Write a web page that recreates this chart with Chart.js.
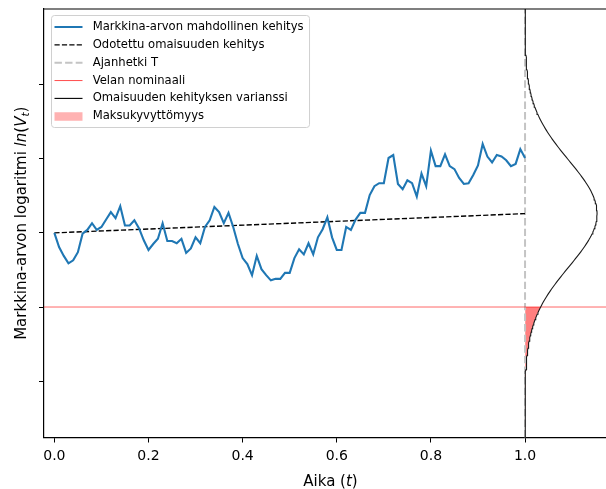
<!DOCTYPE html>
<html>
<head>
<meta charset="utf-8">
<script src="https://cdn.jsdelivr.net/npm/chart.js@4.4.1/dist/chart.umd.min.js"></script>
<style>
  html, body { margin: 0; padding: 0; background: #fff; overflow: hidden; }
  #wrap { width: 606px; height: 489px; }
</style>
</head>
<body>
<div id="wrap"><canvas id="chart_value" width="606" height="489"></canvas></div>
<script>
/*** DATA ***/

// simulation grid, dt = 0.01
const timeSteps = [
  0.00,0.01,0.02,0.03,0.04,0.05,0.06,0.07,0.08,0.09,
  0.10,0.11,0.12,0.13,0.14,0.15,0.16,0.17,0.18,0.19,
  0.20,0.21,0.22,0.23,0.24,0.25,0.26,0.27,0.28,0.29,
  0.30,0.31,0.32,0.33,0.34,0.35,0.36,0.37,0.38,0.39,
  0.40,0.41,0.42,0.43,0.44,0.45,0.46,0.47,0.48,0.49,
  0.50,0.51,0.52,0.53,0.54,0.55,0.56,0.57,0.58,0.59,
  0.60,0.61,0.62,0.63,0.64,0.65,0.66,0.67,0.68,0.69,
  0.70,0.71,0.72,0.73,0.74,0.75,0.76,0.77,0.78,0.79,
  0.80,0.81,0.82,0.83,0.84,0.85,0.86,0.87,0.88,0.89,
  0.90,0.91,0.92,0.93,0.94,0.95,0.96,0.97,0.98,0.99,
  1.00
];

// ln(V_t) along one simulated path
const pathValues = [
  5.00,4.81,4.69,4.59,4.63,4.74,4.99,5.04,5.13,5.04,
  5.08,5.18,5.28,5.20,5.36,5.10,5.10,5.17,5.06,4.90,
  4.77,4.85,4.92,5.13,4.89,4.89,4.86,4.92,4.73,4.79,
  4.94,4.86,5.08,5.17,5.35,5.28,5.13,5.27,5.08,4.85,
  4.66,4.58,4.43,4.69,4.51,4.43,4.36,4.38,4.38,4.46,
  4.46,4.66,4.78,4.71,4.86,4.71,4.94,5.05,5.21,4.94,
  4.77,4.77,5.08,5.04,5.18,5.27,5.27,5.51,5.63,5.67,
  5.67,6.01,6.05,5.66,5.59,5.71,5.67,5.49,5.80,5.63,
  6.11,5.90,5.90,6.06,5.90,5.86,5.74,5.66,5.67,5.78,
  5.91,6.20,6.03,5.95,6.05,6.03,5.98,5.90,5.93,6.13,
  6.01
];

const startLevel = 5.00;     // ln V_0
const expectedEnd = 5.26;    // E[ln V_T]
const debtLevel = 4.00;      // ln D
const horizonT = 1.0;
const sigmaT = 0.72;         // std of ln V_T
const densityWidth = 0.153;  // peak of the pdf in time units

const xTicks = [0.0, 0.2, 0.4, 0.6, 0.8, 1.0];
const yTicks = [3, 4, 5, 6, 7];
const xMin = -0.022, xMax = 1.172;
const yMin = 2.24, yMax = 8.02;

/*** DERIVED SERIES ***/

function pdfOffset(y) {
  const z = (y - expectedEnd) / sigmaT;
  return densityWidth * Math.exp(-0.5 * z * z);
}

const densityLevels = [];
for (let i = 0; i <= 240; i++) densityLevels.push(yMin + (yMax - yMin) * i / 240);

const densityPts = densityLevels.map(y => ({x: horizonT + pdfOffset(y), y: y}));

// area under the tail below the debt level
const tailPts = [{x: horizonT + pdfOffset(debtLevel), y: debtLevel}];
densityLevels.filter(y => y <= debtLevel).reverse()
  .forEach(y => tailPts.push({x: horizonT + pdfOffset(y), y: y}));
tailPts.push({x: horizonT, y: yMin});
tailPts.push({x: horizonT, y: debtLevel});
tailPts.push({x: horizonT + pdfOffset(debtLevel), y: debtLevel});

const pathPts = timeSteps.map((t, i) => ({x: t, y: pathValues[i]}));

/*** LEGEND, SPINE, AXIS TITLES ***/

const legendItems = [
  {label: 'Markkina-arvon mahdollinen kehitys', kind: 'line', color: '#1f77b4', width: 2, dash: []},
  {label: 'Odotettu omaisuuden kehitys', kind: 'line', color: '#000', width: 1.4, dash: [5.2, 2.2]},
  {label: 'Ajanhetki T', kind: 'line', color: '#c4c4c4', width: 2, dash: [7.4, 3.2]},
  {label: 'Velan nominaali', kind: 'line', color: 'rgba(255,0,0,0.7)', width: 1, dash: []},
  {label: 'Omaisuuden kehityksen varianssi', kind: 'line', color: '#000', width: 1.1, dash: []},
  {label: 'Maksukyvyttömyys', kind: 'patch', color: 'rgba(255,0,0,0.3)'}
];

function drawRich(ctx, parts, size) {
  // parts: [text, style] with style '', 'i' or 'sub'
  let total = 0;
  parts.forEach(p => {
    const s = p[1] === 'sub' ? size * 0.7 : size;
    ctx.font = (p[1] ? 'oblique ' : '') + s + 'px "DejaVu Sans"';
    p.w = ctx.measureText(p[0]).width;
    total += p.w;
  });
  let x = -total / 2;
  parts.forEach(p => {
    const s = p[1] === 'sub' ? size * 0.7 : size;
    ctx.font = (p[1] ? 'oblique ' : '') + s + 'px "DejaVu Sans"';
    ctx.fillText(p[0], x, p[1] === 'sub' ? size * 0.22 : 0);
    x += p.w;
  });
}

const framePlugin = {
  id: 'frame',
  afterDraw(chart) {
    const ctx = chart.ctx;
    const a = chart.chartArea;
    ctx.save();

    // top spine
    ctx.strokeStyle = '#000';
    ctx.lineWidth = 1.2;
    ctx.beginPath();
    ctx.moveTo(a.left, a.top);
    ctx.lineTo(a.right, a.top);
    ctx.stroke();

    // axis titles
    ctx.fillStyle = '#000';
    ctx.textBaseline = 'alphabetic';
    ctx.save();
    ctx.translate(330.5, 486);
    drawRich(ctx, [['Aika (', ''], ['t', 'i'], [')', '']], 15);
    ctx.restore();

    ctx.save();
    ctx.translate(25.5, (a.top + a.bottom) / 2);
    ctx.rotate(-Math.PI / 2);
    drawRich(ctx, [['Markkina-arvon logaritmi ', ''], ['ln', 'i'], ['(', ''], ['V', 'i'], ['t', 'sub'], [')', '']], 15);
    ctx.restore();

    // legend
    ctx.font = '11.6px "DejaVu Sans"';
    let maxW = 0;
    legendItems.forEach(it => { maxW = Math.max(maxW, ctx.measureText(it.label).width); });
    const bx = 51.5, by = 15.5, bw = 92.7 - bx + maxW + 6, bh = 112;
    ctx.beginPath();
    ctx.roundRect(bx, by, bw, bh, 3);
    ctx.fillStyle = 'rgba(255,255,255,0.8)';
    ctx.fill();
    ctx.strokeStyle = '#d0d0d0';
    ctx.lineWidth = 1;
    ctx.stroke();

    legendItems.forEach((it, i) => {
      const cy = 27 + i * 17.85;
      if (it.kind === 'line') {
        ctx.strokeStyle = it.color;
        ctx.lineWidth = it.width;
        ctx.setLineDash(it.dash);
        ctx.beginPath();
        ctx.moveTo(54.5, cy);
        ctx.lineTo(82.5, cy);
        ctx.stroke();
        ctx.setLineDash([]);
      } else {
        ctx.fillStyle = it.color;
        ctx.fillRect(54.5, cy - 4, 28, 8.5);
      }
      ctx.fillStyle = '#000';
      ctx.textBaseline = 'middle';
      ctx.fillText(it.label, 92.7, cy);
    });

    ctx.restore();
  }
};

/*** CHART ***/

const tickFont = {family: '"DejaVu Sans"', size: 14};

let ctx = document.getElementById('chart_value').getContext('2d');

new Chart(ctx, {
  type: 'line',
  data: {
    datasets: [
      {
        label: 'Maksukyvyttömyys',
        data: tailPts,
        borderWidth: 0,
        borderColor: 'rgba(0,0,0,0)',
        backgroundColor: 'rgba(255,0,0,0.5)',
        fill: 'shape',
        order: 6
      },
      {
        label: 'Ajanhetki T',
        data: [{x: horizonT, y: yMin}, {x: horizonT, y: yMax}],
        borderColor: '#c4c4c4',
        borderWidth: 2,
        borderDash: [7.4, 3.2],
        order: 5
      },
      {
        label: 'Velan nominaali',
        data: [{x: xMin, y: debtLevel}, {x: xMax, y: debtLevel}],
        borderColor: 'rgba(255,0,0,0.6)',
        borderWidth: 1,
        order: 4
      },
      {
        label: 'Omaisuuden kehityksen varianssi',
        data: densityPts,
        borderColor: '#1a1a1a',
        borderWidth: 1.1,
        order: 3
      },
      {
        label: 'Odotettu omaisuuden kehitys',
        data: [{x: 0, y: startLevel}, {x: horizonT, y: expectedEnd}],
        borderColor: '#000',
        borderWidth: 1.4,
        borderDash: [5.2, 2.2],
        order: 2
      },
      {
        label: 'Markkina-arvon mahdollinen kehitys',
        data: pathPts,
        borderColor: '#1f77b4',
        borderWidth: 2.1,
        order: 1
      }
    ]
  },
  options: {
    responsive: false,
    animation: false,
    devicePixelRatio: 1,
    elements: {point: {radius: 0}, line: {tension: 0, fill: false}},
    layout: {padding: {top: 9, right: 0, left: 0, bottom: 0}},
    plugins: {legend: {display: false}, tooltip: {enabled: false}},
    scales: {
      x: {
        type: 'linear',
        min: xMin,
        max: xMax,
        afterBuildTicks: s => { s.ticks = xTicks.map(v => ({value: v})); },
        afterFit: s => { s.height = 489 - 9 - 428.5; },
        ticks: {
          callback: v => v.toFixed(1),
          font: tickFont,
          color: '#000',
          padding: 5,
          maxRotation: 0,
          autoSkip: false
        },
        grid: {drawOnChartArea: false, drawTicks: true, tickLength: 5, color: '#000', tickWidth: 1},
        border: {display: true, color: '#000', width: 1.2}
      },
      y: {
        type: 'linear',
        min: yMin,
        max: yMax,
        afterBuildTicks: s => { s.ticks = yTicks.map(v => ({value: v})); },
        afterFit: s => { s.width = 44; },
        ticks: {callback: () => '', font: tickFont, padding: 0},
        grid: {drawOnChartArea: false, drawTicks: true, tickLength: 5, color: '#000', tickWidth: 1},
        border: {display: true, color: '#000', width: 1.2}
      }
    }
  },
  plugins: [framePlugin]
});
</script>
</body>
</html>
